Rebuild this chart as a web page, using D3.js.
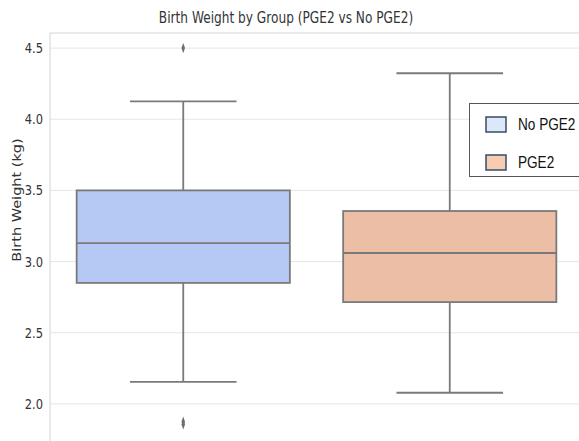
<!DOCTYPE html>
<html>
<head>
<meta charset="utf-8">
<script src="https://cdn.jsdelivr.net/npm/d3@7"></script>
<style>
  body { margin: 0; background: #fff; }
  text { font-family: "DejaVu Sans", sans-serif; }
</style>
</head>
<body>
<div id="chart"></div>
<script>
var width = 579, height = 441,
    margin = { top: 33, right: -4, bottom: -2, left: 50 },
    sx = 0.76;   // the picture is squeezed sideways, text too

// five-number summaries
var groups = ["No PGE2", "PGE2"],
    q1 = [2.85, 2.715],
    median = [3.13, 3.06],
    q3 = [3.50, 3.355],
    whiskLo = [2.155, 2.078],
    whiskHi = [4.125, 4.323],
    outliers = [[4.50, 1.875, 1.855], []],
    yTicks = [2.0, 2.5, 3.0, 3.5, 4.0, 4.5],
    fills = ["#b6c9f4", "#ecbea6"],
    legendFills = ["#dce8f7", "#f7ccb0"];

var svg = d3.select("#chart").append("svg")
    .attr("width", width)
    .attr("height", height);

var x = d3.scaleBand()
    .domain(groups)
    .range([margin.left, width - margin.right])
    .paddingInner(0.2)
    .paddingOuter(0.1);

var y = d3.scaleLinear()
    .domain([1.725, 4.606])
    .range([height - margin.bottom, margin.top]);

// grid
svg.selectAll(".grid")
    .data(yTicks)
    .enter().append("line")
    .attr("x1", margin.left)
    .attr("x2", width)
    .attr("y1", function(d) { return y(d); })
    .attr("y2", function(d) { return y(d); })
    .style("stroke", "#e6e6e6")
    .style("stroke-width", 1);

// frame (left + top)
svg.append("line")
    .attr("x1", margin.left).attr("x2", margin.left)
    .attr("y1", margin.top).attr("y2", height)
    .style("stroke", "#d4d4d4");
svg.append("line")
    .attr("x1", margin.left).attr("x2", width)
    .attr("y1", margin.top).attr("y2", margin.top)
    .style("stroke", "#d4d4d4");

// y axis labels
var yAxis = d3.axisLeft(y).tickValues(yTicks).tickFormat(d3.format(".1f")).tickSize(0);
var ga = svg.append("g")
    .attr("transform", "translate(" + margin.left + ",0)")
    .call(yAxis);
ga.select(".domain").remove();
ga.selectAll("text")
    .attr("x", -7 / 0.82)
    .attr("transform", "scale(0.82,1)")
    .style("font-size", "14px")
    .style("fill", "#333")
    .style("font-family", "'DejaVu Sans', sans-serif");

var stroke = "#7a7a7a";

var box = svg.selectAll(".box")
    .data(groups)
    .enter().append("g")
    .attr("class", "box");

// whiskers
box.append("line")
    .attr("x1", function(d) { return x(d) + x.bandwidth() / 2; })
    .attr("x2", function(d) { return x(d) + x.bandwidth() / 2; })
    .attr("y1", function(d, i) { return y(q3[i]); })
    .attr("y2", function(d, i) { return y(whiskHi[i]); })
    .style("stroke", stroke).style("stroke-width", 1.8);
box.append("line")
    .attr("x1", function(d) { return x(d) + x.bandwidth() / 2; })
    .attr("x2", function(d) { return x(d) + x.bandwidth() / 2; })
    .attr("y1", function(d, i) { return y(q1[i]); })
    .attr("y2", function(d, i) { return y(whiskLo[i]); })
    .style("stroke", stroke).style("stroke-width", 1.8);

// caps
[whiskHi, whiskLo].forEach(function(arr) {
    box.append("line")
        .attr("x1", function(d) { return x(d) + x.bandwidth() / 4; })
        .attr("x2", function(d) { return x(d) + x.bandwidth() * 3 / 4; })
        .attr("y1", function(d, i) { return y(arr[i]); })
        .attr("y2", function(d, i) { return y(arr[i]); })
        .style("stroke", stroke).style("stroke-width", 1.8);
});

// boxes
box.append("rect")
    .attr("x", function(d) { return x(d); })
    .attr("y", function(d, i) { return y(q3[i]); })
    .attr("width", x.bandwidth())
    .attr("height", function(d, i) { return y(q1[i]) - y(q3[i]); })
    .style("fill", function(d, i) { return fills[i]; })
    .style("stroke", stroke).style("stroke-width", 1.8);

// median
box.append("line")
    .attr("x1", function(d) { return x(d); })
    .attr("x2", function(d) { return x(d) + x.bandwidth(); })
    .attr("y1", function(d, i) { return y(median[i]); })
    .attr("y2", function(d, i) { return y(median[i]); })
    .style("stroke", stroke).style("stroke-width", 1.8);

// outliers (diamonds)
var diamond = d3.symbol().type(d3.symbolDiamond).size(30);
groups.forEach(function(g, i) {
    svg.selectAll(".out" + i)
        .data(outliers[i])
        .enter().append("path")
        .attr("d", diamond)
        .attr("transform", function(d) {
            return "translate(" + (x(g) + x.bandwidth() / 2) + "," + y(d) + ") scale(0.6,1)";
        })
        .style("fill", "#6f6f6f");
});

// title
svg.append("text")
    .attr("transform", "translate(286,23) scale(" + sx + ",1)")
    .attr("text-anchor", "middle")
    .style("font-size", "16px")
    .style("fill", "#333")
    .text("Birth Weight by Group (PGE2 vs No PGE2)");

// y label
svg.append("text")
    .attr("transform", "translate(21,200) rotate(-90) scale(1,0.8)")
    .attr("text-anchor", "middle")
    .style("font-size", "14.5px")
    .style("fill", "#333")
    .text("Birth Weight (kg)");

// legend
var lg = svg.append("g");
lg.append("rect")
    .attr("x", 469.5).attr("y", 103.5)
    .attr("width", 110).attr("height", 73)
    .style("fill", "#fff")
    .style("stroke", "#555").style("stroke-width", 1);

var item = lg.selectAll(".item")
    .data(groups)
    .enter().append("g")
    .attr("transform", function(d, i) { return "translate(486," + (117 + i * 38) + ")"; });
item.append("rect")
    .attr("width", 20).attr("height", 15)
    .style("fill", function(d, i) { return legendFills[i]; })
    .style("stroke", "#3a4a6a").style("stroke-width", 1.5);
item.append("text")
    .attr("transform", "translate(32,13) scale(0.85,1)")
    .style("font-size", "16px")
    .style("font-family", "'Liberation Sans', Arial, sans-serif")
    .style("fill", "#111")
    .text(function(d) { return d; });
</script>
</body>
</html>
